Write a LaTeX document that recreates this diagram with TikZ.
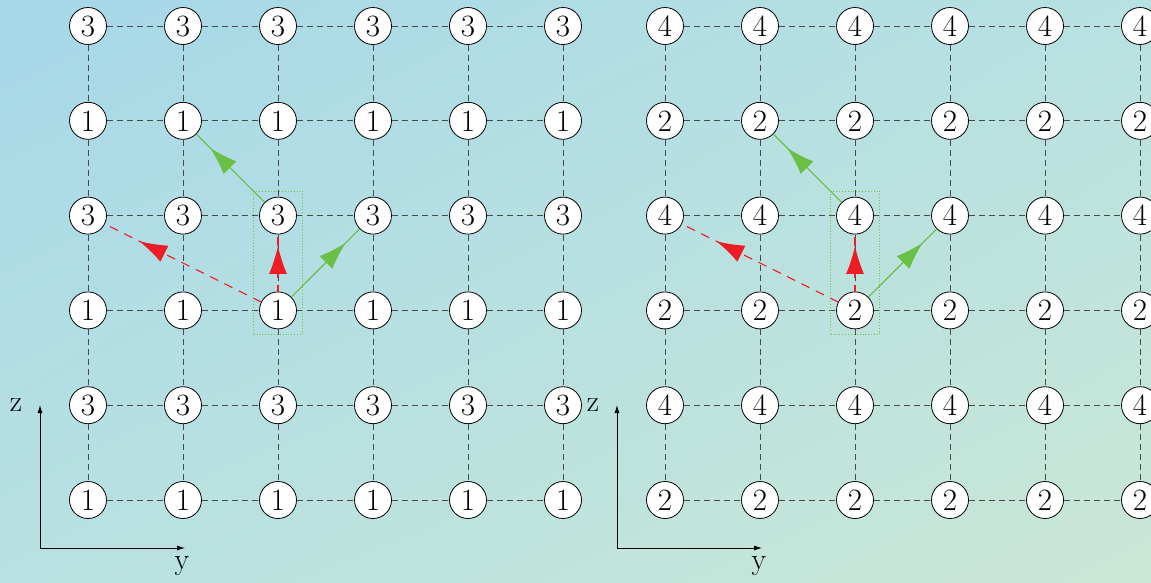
\documentclass[tikz,border=0pt]{standalone}
\usetikzlibrary{arrows.meta,decorations.markings,fit,shadings}
\definecolor{bgA}{HTML}{A6D8E9}
\definecolor{bgM}{HTML}{B8E1E1}
\definecolor{bgB}{HTML}{CAE7D6}
\definecolor{gridc}{HTML}{4A4A4A}
\definecolor{arrred}{HTML}{EE1C25}
\definecolor{arrgreen}{HTML}{6ABF45}
\begin{document}
\begin{tikzpicture}[x=1pt,y=-1pt,
  vn/.style={circle,draw=black,line width=0.8pt,fill=white,minimum size=37pt,inner sep=0pt,
    font=\fontsize{31}{31}\selectfont},
  gridline/.style={draw=gridc,line width=0.9pt,dash pattern=on 6pt off 4pt},
  mk/.style={postaction={decorate,decoration={markings,
    mark=at position #1 with {\arrow[solid]{Latex[length=28pt,width=18pt]}}}}},
  redarr/.style={draw=arrred,line width=1.1pt,dash pattern=on 9pt off 7pt},
  greenarr/.style={draw=arrgreen,line width=1.1pt},
  axisline/.style={draw=black,line width=0.8pt,-{Latex[length=8pt,width=5pt]}},
  axlabel/.style={font=\fontsize{30}{30}\selectfont,inner sep=0pt},
  fitbox/.style={draw=arrgreen,line width=0.9pt,dotted,inner sep=5.5pt}]
\useasboundingbox (0,0) rectangle (1151,582);
\clip (0,0) rectangle (1151,582);
\shade[upper left=bgA,upper right=bgM,lower left=bgM,lower right=bgB] (0,0) rectangle (1151,582);
% nodes
\foreach \c in {0,...,5}{
  \foreach \r in {0,...,5}{
    \node[vn] (L\c-\r) at ({88+95*\c},{26+94.8*\r}) {\ifodd\r\relax 1\else 3\fi};
    \node[vn] (R\c-\r) at ({665+95*\c},{26+94.8*\r}) {\ifodd\r\relax 2\else 4\fi};
  }
}
% grid edges
\foreach \g in {L,R}{
  \foreach \c [evaluate=\c as \cc using int(\c+1)] in {0,...,4}{
    \foreach \r in {0,...,5}{
      \draw[gridline] (\g\c-\r) -- (\g\cc-\r);
      \draw[gridline] (\g\r-\c) -- (\g\r-\cc);
    }
  }
}
% arrows
\foreach \g in {L,R}{
  \draw[redarr,mk=0.78] (\g2-3) -- (\g0-2);
  \draw[redarr,dash phase=2pt,mk=0.8] (\g2-3) -- (\g2-2);
  \draw[greenarr,mk=0.8] (\g2-3) -- (\g3-2);
  \draw[greenarr,mk=0.8] (\g2-2) -- (\g1-1);
  \node[fitbox,fit=(\g2-2)(\g2-3)] (box\g) {};
}
% axes
\coordinate (oL) at (40,548);
\coordinate (zL) at (40,405);
\coordinate (yL) at (185,548);
\draw[axisline] (oL) -- (zL);
\draw[axisline] (oL) -- (yL);
\node[axlabel] (lzL) at (16,405) {z};
\node[axlabel] (lyL) at (182,566) {y};
\coordinate (oR) at (617,548);
\coordinate (zR) at (617,405);
\coordinate (yR) at (762,548);
\draw[axisline] (oR) -- (zR);
\draw[axisline] (oR) -- (yR);
\node[axlabel] (lzR) at (593,405) {z};
\node[axlabel] (lyR) at (759,566) {y};
\end{tikzpicture}
\end{document}
